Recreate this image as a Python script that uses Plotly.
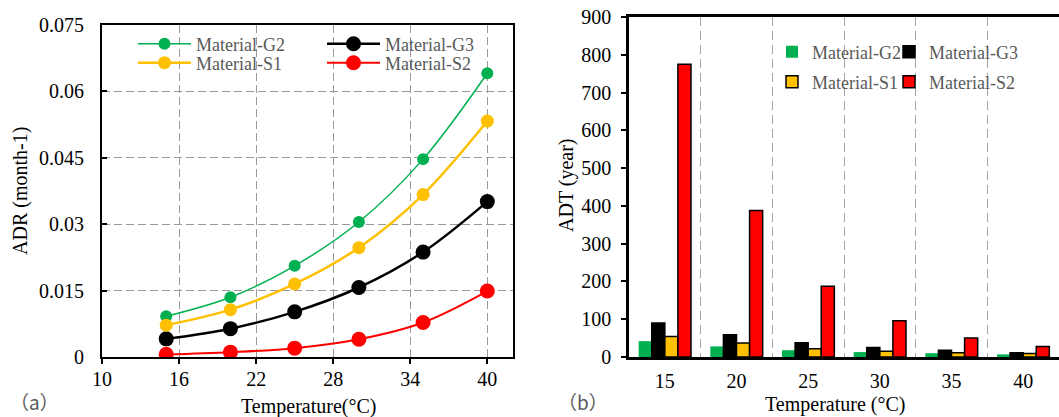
import plotly.graph_objects as go

# ---------------- data ----------------
temps = [15, 20, 25, 30, 35, 40]
temp_labels = ["15", "20", "25", "30", "35", "40"]
materials = ["Material-G2", "Material-G3", "Material-S1", "Material-S2"]

adr_g2 = [0.0092, 0.0135, 0.0206, 0.0305, 0.0447, 0.0641]
adr_g3 = [0.0041, 0.0064, 0.0102, 0.0157, 0.0237, 0.0351]
adr_s1 = [0.0072, 0.0107, 0.0165, 0.0247, 0.0367, 0.0533]
adr_s2 = [0.0006, 0.0011, 0.0020, 0.0040, 0.0078, 0.0149]

adt_g2 = [42, 28, 18, 13, 10, 7]
adt_g3 = [90, 59, 38, 25, 18, 11]
adt_s1 = [54, 37, 22, 15, 11, 9]
adt_s2 = [775, 388, 187, 96, 50, 28]

adr_ticks = [0, 0.015, 0.03, 0.045, 0.06, 0.075]
adr_tick_labels = ["0", "0.015", "0.03", "0.045", "0.06", "0.075"]
temp_ticks = [10, 16, 22, 28, 34, 40]
adt_ticks = [0, 100, 200, 300, 400, 500, 600, 700, 800, 900]

# ---------------- style ----------------
W, H = 1059, 417
SERIF = "Liberation Serif"
GREEN, BLACK, YELLOW, RED = "#00B050", "#000000", "#FFC000", "#FF0000"
LEG_COLOR = "#595959"


def px(p):
    return p / W


def py(p):
    return 1 - p / H


fig = go.Figure()

# ---- left panel: ADR lines ----
line_specs = [
    (materials[0], adr_g2, GREEN, 1.5, 12, "legend"),
    (materials[1], adr_g3, BLACK, 2.5, 15, "legend2"),
    (materials[2], adr_s1, YELLOW, 2.5, 13, "legend3"),
    (materials[3], adr_s2, RED, 2.0, 15, "legend4"),
]
for name, ys, col, lw, ms, leg in line_specs:
    fig.add_trace(go.Scatter(
        x=temps, y=ys, name=name, mode="lines+markers",
        line=dict(color=col, width=lw, shape="spline", smoothing=1),
        marker=dict(color=col, size=ms),
        xaxis="x", yaxis="y", legend=leg,
    ))

# ---- right panel: ADT bars ----
bar_specs = [
    (materials[0], adt_g2, GREEN, 0, "legend5"),
    (materials[1], adt_g3, BLACK, 1.5, "legend6"),
    (materials[2], adt_s1, YELLOW, 1.5, "legend7"),
    (materials[3], adt_s2, RED, 1.5, "legend8"),
]
for name, ys, col, lw, leg in bar_specs:
    fig.add_trace(go.Bar(
        x=temp_labels, y=ys, name=name,
        marker=dict(color=col, line=dict(color=BLACK, width=lw)),
        xaxis="x2", yaxis="y2", legend=leg,
    ))

grid_col = "#9a9a9a"
tickfont = dict(family=SERIF, size=20, color="#000000")

fig.update_layout(
    width=W, height=H,
    margin=dict(l=0, r=0, t=0, b=0, autoexpand=False),
    showlegend=True,
    paper_bgcolor="white", plot_bgcolor="white",
    barmode="group", bargap=0.27, bargroupgap=0,
    font=dict(family=SERIF, size=20, color="#000000"),
    xaxis=dict(
        domain=[px(102), px(513)], range=[10, 42],
        tickvals=temp_ticks, ticks="outside", ticklen=5, tickwidth=1.5,
        tickcolor="#000000", tickfont=tickfont, ticklabelstandoff=-2,
        showline=True, linecolor="#000000", linewidth=2, mirror=True,
        showgrid=True, gridcolor=grid_col, gridwidth=1, griddash="8px,4px",
        zeroline=False, anchor="y", automargin=False,
    ),
    yaxis=dict(
        domain=[py(357), py(25)], range=[0, 0.075],
        tickvals=adr_ticks, ticktext=adr_tick_labels,
        ticks="inside", ticklen=5, tickwidth=1.5, tickcolor="#000000",
        tickfont=tickfont, ticklabelstandoff=12,
        showline=True, linecolor="#000000", linewidth=2, mirror=True,
        showgrid=True, gridcolor=grid_col, gridwidth=1, griddash="8px,4px",
        zeroline=False, anchor="x", automargin=False,
    ),
    xaxis2=dict(
        domain=[px(629), 1.0], type="category",
        categoryorder="array", categoryarray=temp_labels,
        range=[-0.5, 5.5], tickson="boundaries", ticks="",
        tickfont=tickfont, ticklabelstandoff=4,
        showline=True, linecolor="#000000", linewidth=2.5, mirror=True,
        showgrid=True, gridcolor="#a6a6a6", gridwidth=1.3, griddash="9px,5px",
        zeroline=False, anchor="y2", automargin=False,
    ),
    yaxis2=dict(
        domain=[py(357), py(17)], range=[0, 900],
        tickvals=adt_ticks, ticks="outside", ticklen=5, tickwidth=1.5,
        tickcolor="#000000", tickfont=tickfont, ticklabelstandoff=6,
        showline=True, linecolor="#000000", linewidth=2.5, mirror=False,
        showgrid=False, zeroline=False, anchor="x2", automargin=False,
    ),
)

# ---- legends (one per entry, placed to match reference) ----
leg_font = dict(family=SERIF, size=18, color=LEG_COLOR)
leg_pos = {
    "legend": (133, 44, 53),
    "legend2": (322, 44, 53),
    "legend3": (133, 63, 53),
    "legend4": (322, 63, 53),
    "legend5": (772, 52, 30),
    "legend6": (889, 52, 30),
    "legend7": (772, 82, 30),
    "legend8": (889, 82, 30),
}
for key, (lx, ly, iw) in leg_pos.items():
    fig.update_layout({key: dict(
        x=px(lx), y=py(ly), xanchor="left", yanchor="middle",
        xref="container", yref="container",
        bgcolor="rgba(0,0,0,0)", borderwidth=0, font=leg_font,
        itemwidth=iw, orientation="v", visible=True,
    )})

# ---- titles and panel labels ----
ann = [
    dict(text="ADR (month-1)", x=px(20), y=py(191), textangle=-90),
    dict(text="Temperature(°C)", x=px(308), y=py(406)),
    dict(text="ADT (year)", x=px(566), y=py(186), textangle=-90),
    dict(text="Temperature (°C)", x=px(835), y=py(404)),
]
for a in ann:
    fig.add_annotation(xref="paper", yref="paper", showarrow=False,
                       xanchor="center", yanchor="middle",
                       font=dict(family=SERIF, size=20, color="#000000"), **a)

for t, x, y in [("（a）", 34, 401), ("（b）", 583, 401)]:
    fig.add_annotation(text=t, xref="paper", yref="paper", x=px(x), y=py(y),
                       showarrow=False, xanchor="center", yanchor="middle",
                       font=dict(family="Noto Sans CJK SC", size=19, color=LEG_COLOR))

fig.write_html("out.html")
